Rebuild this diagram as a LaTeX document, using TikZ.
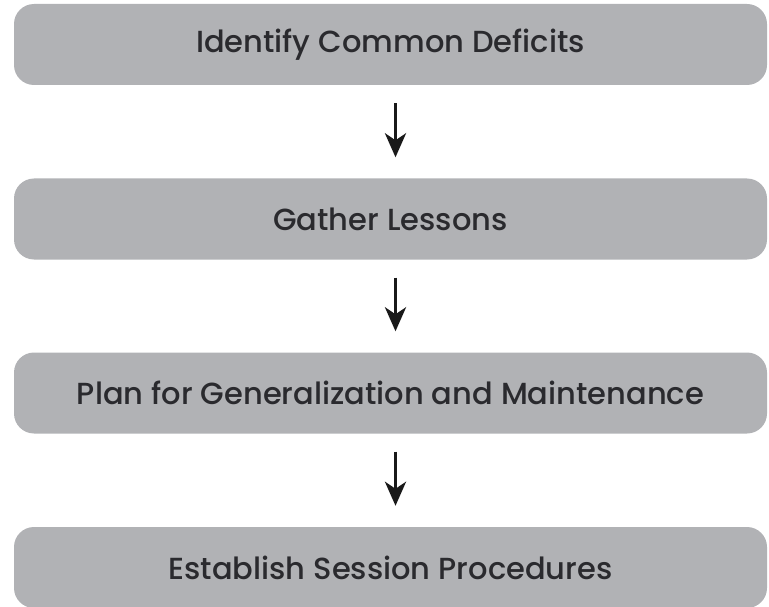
\documentclass[tikz,border=0pt]{standalone}
\usepackage{fontspec}
\setmainfont{Poppins Medium}
\usetikzlibrary{arrows.meta}
\definecolor{boxgray}{HTML}{B1B2B5}
\definecolor{txt}{HTML}{2A2A2E}
\tikzset{
  stepbox/.style={rectangle, rounded corners=20pt, fill=boxgray, draw=none,
    minimum width=753pt, minimum height=81pt, text=txt, font=\fontsize{30.5}{36}\selectfont},
  flow/.style={line width=3.6pt, draw=black!90, -{Stealth[length=24pt,width=21pt,inset=7pt]}, shorten <=18pt, shorten >=21pt}
}
\begin{document}
\begin{tikzpicture}[x=1pt,y=-1pt]
\useasboundingbox (0,0) rectangle (769,607);
\node[stepbox] (a) at (390.5,44.5) {Identify Common Deficits};
\node[stepbox] (b) at (390.5,219) {Gather Lessons};
\node[stepbox] (c) at (390.5,393) {Plan for Generalization and Maintenance};
\node[stepbox] (d) at (390.5,567.5) {Establish Session Procedures};
\draw[flow] ([xshift=5pt]a.south) -- ([xshift=5pt]b.north);
\draw[flow] ([xshift=5pt]b.south) -- ([xshift=5pt]c.north);
\draw[flow] ([xshift=5pt]c.south) -- ([xshift=5pt]d.north);
\end{tikzpicture}
\end{document}
